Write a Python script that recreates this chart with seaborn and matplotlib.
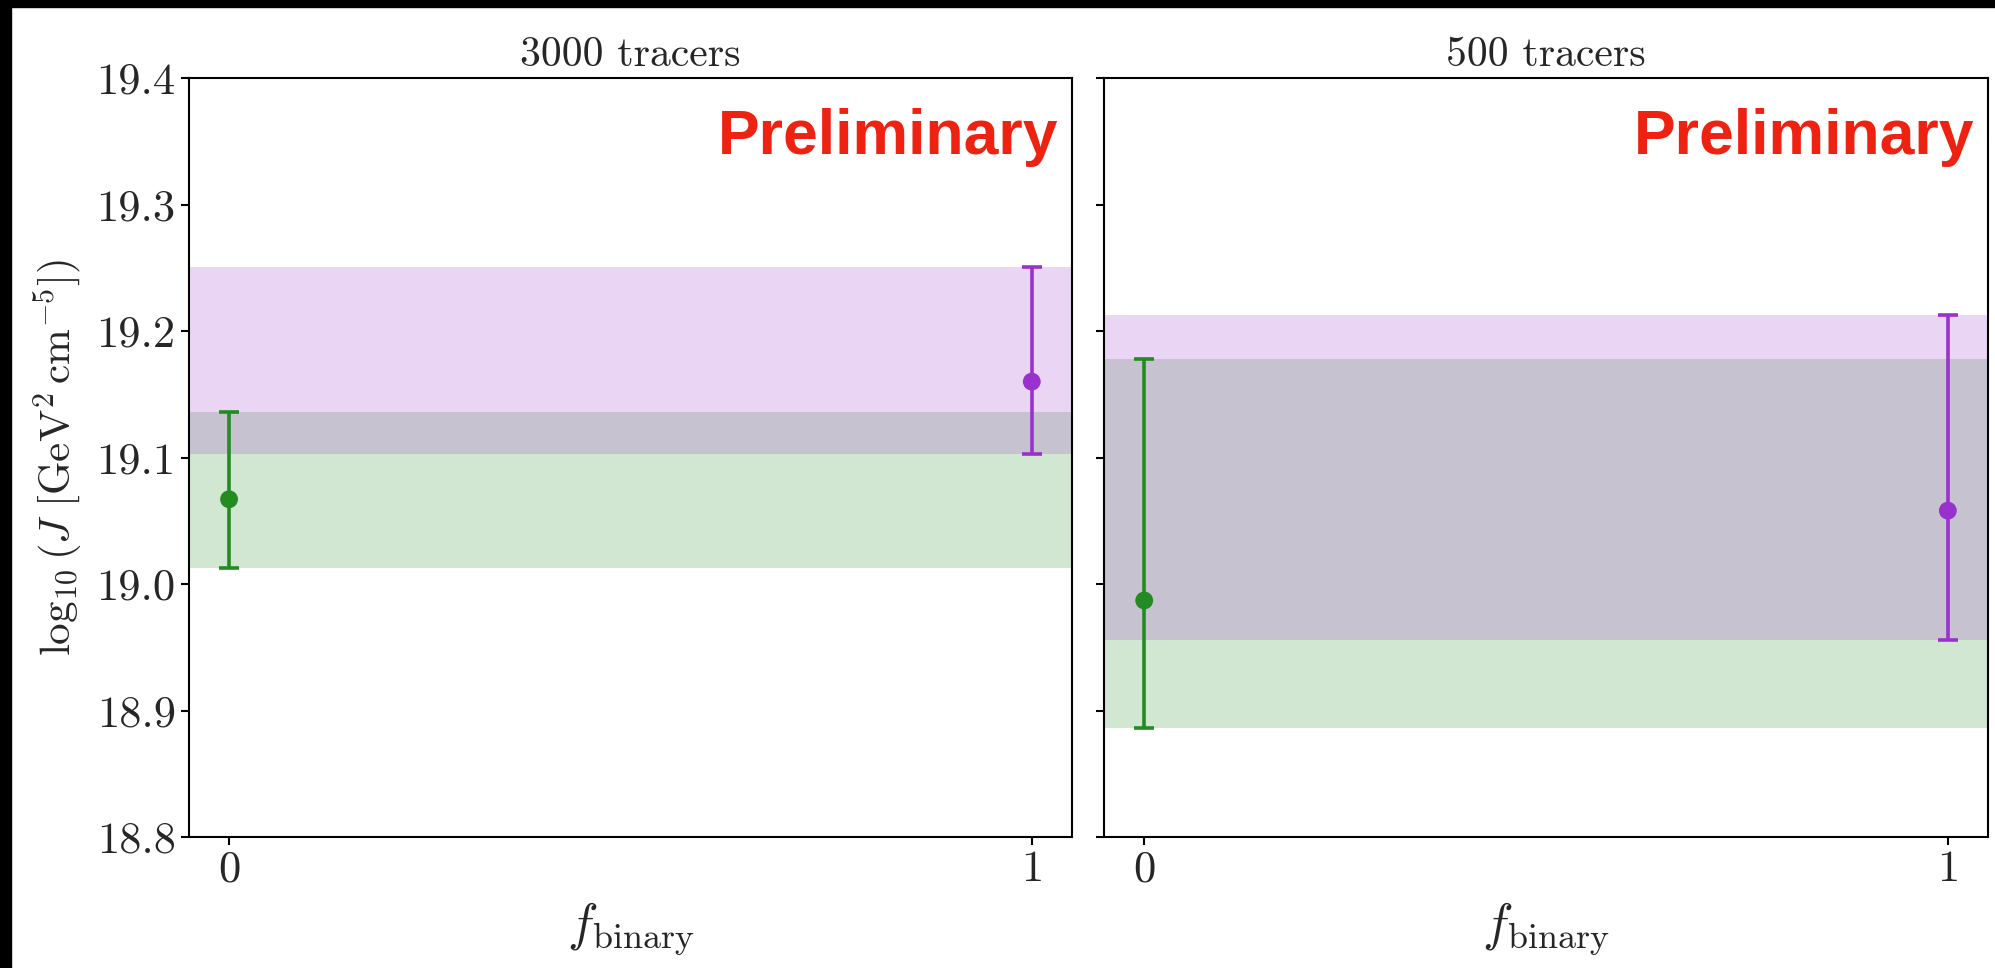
import matplotlib
matplotlib.use("Agg")
import matplotlib.pyplot as plt
from matplotlib.patches import Rectangle
import seaborn as sns
import pandas as pd

# J-factor estimates for two tracer sample sizes, binary fraction 0 and 1
panel_titles = ["3000 tracers", "500 tracers"]
f_binary = [0, 1]
series_colors = ["forestgreen", "darkorchid"]

# median, lower bound, upper bound of log10 J for each panel
median_3000 = [19.067, 19.160]
lower_3000 = [19.013, 19.103]
upper_3000 = [19.136, 19.251]

median_500 = [18.987, 19.058]
lower_500 = [18.886, 18.956]
upper_500 = [19.178, 19.213]

y_ticks = [18.8, 18.9, 19.0, 19.1, 19.2, 19.3, 19.4]
y_tick_labels = ["18.8", "18.9", "19.0", "19.1", "19.2", "19.3", "19.4"]
x_ticks = [0, 1]
x_tick_labels = ["0", "1"]

sns.set_style("ticks")
plt.rcParams["font.family"] = ["cmr10"]
plt.rcParams["mathtext.fontset"] = "cm"
plt.rcParams["axes.unicode_minus"] = False
plt.rcParams["axes.formatter.use_mathtext"] = True

fig = plt.figure(figsize=(19.95, 9.68), dpi=100)
fig.patch.set_facecolor("white")
ax_left = fig.add_axes([0.0947, 0.1353, 0.4426, 0.7841])
ax_right = fig.add_axes([0.5534, 0.1353, 0.4431, 0.7841], sharey=ax_left)

panels = [
    (ax_left, median_3000, lower_3000, upper_3000),
    (ax_right, median_500, lower_500, upper_500),
]

for i, (ax, med, lo, hi) in enumerate(panels):
    df = pd.DataFrame({"f": f_binary, "logJ": med, "kind": ["a", "b"]})
    for j in range(len(f_binary)):
        ax.axhspan(lo[j], hi[j], color=series_colors[j], alpha=0.2, lw=0)
        ax.errorbar(f_binary[j], med[j],
                    yerr=[[med[j] - lo[j]], [hi[j] - med[j]]],
                    fmt="none", ecolor=series_colors[j], elinewidth=2.6,
                    capsize=7, capthick=2.6, zorder=3)
    sns.scatterplot(data=df, x="f", y="logJ", hue="kind",
                    palette=series_colors, s=165, edgecolor="none",
                    legend=False, ax=ax, zorder=4)

    ax.set_xlim(-0.05, 1.05)
    ax.set_ylim(18.8, 19.4)
    ax.set_xticks(x_ticks)
    ax.set_xticklabels(x_tick_labels)
    ax.set_yticks(y_ticks)
    ax.set_title(panel_titles[i], fontsize=30, pad=9)
    ax.set_xlabel(r"$f_{\mathrm{binary}}$", fontsize=37, labelpad=8)
    ax.tick_params(axis="both", labelsize=32, length=6, width=1.5,
                   direction="out", color="black")
    for sp in ax.spines.values():
        sp.set_linewidth(1.5)
        sp.set_color("black")
    ax.text(0.985, 0.90, "Preliminary", transform=ax.transAxes,
            ha="right", va="baseline", fontsize=45, fontweight="bold",
            color="#ee2211", family=["Liberation Sans"], zorder=5)

ax_left.set_yticklabels(y_tick_labels)
ax_left.set_ylabel(r"$\log_{10}(J\ [\mathrm{GeV}^2\,\mathrm{cm}^{-5}])$",
                   fontsize=31, labelpad=9)
ax_right.set_ylabel("")
plt.setp(ax_right.get_yticklabels(), visible=False)

# dark frame strips along the top and left edges
fig.patches.append(Rectangle((0, 1 - 7 / 968), 1, 7 / 968, transform=fig.transFigure,
                             color="black", zorder=10))
fig.patches.append(Rectangle((0, 0), 11 / 1995, 1, transform=fig.transFigure,
                             color="black", zorder=10))

fig.savefig("out.png", dpi=100, facecolor="white")
